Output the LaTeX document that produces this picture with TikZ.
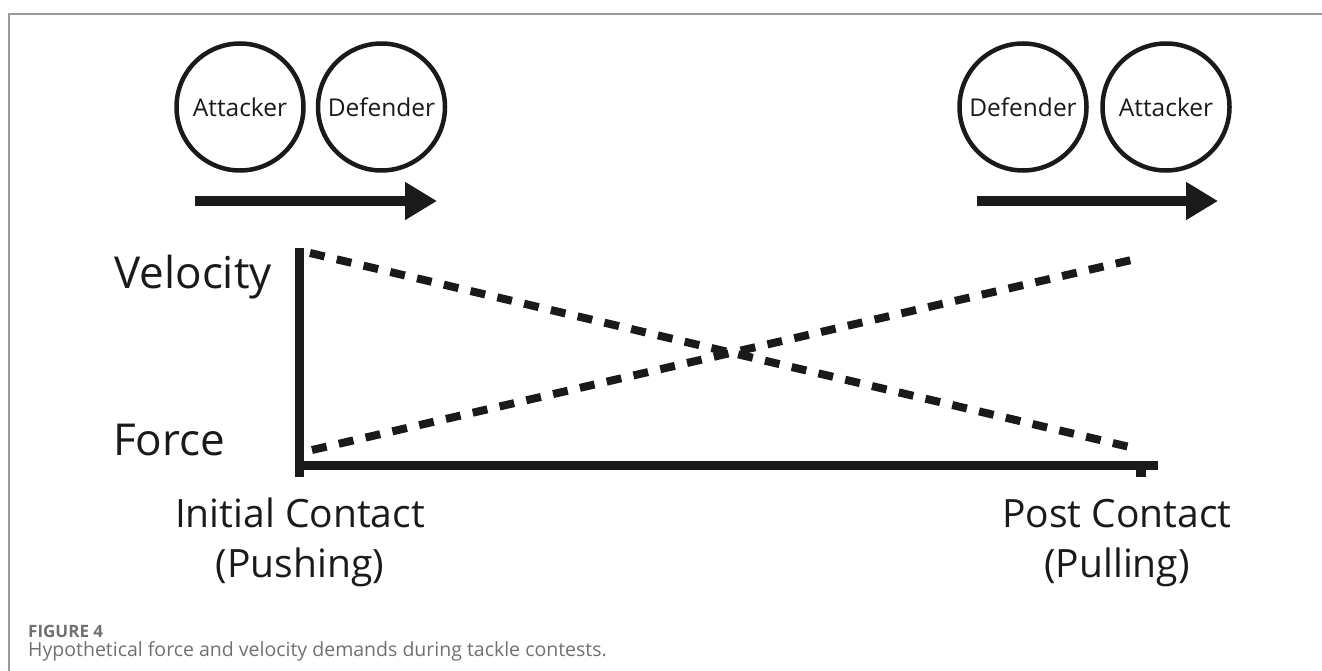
\documentclass[tikz,border=0pt]{standalone}
\usepackage{fontspec}
\setmainfont{Open Sans}
\usetikzlibrary{arrows.meta}

\definecolor{ink}{HTML}{1A1A1A}
\definecolor{framegray}{HTML}{9A9A9A}
\definecolor{capgray}{HTML}{707070}

\tikzset{
  player/.style={draw=ink, line width=4.5pt, circle, minimum size=127pt,
    inner sep=0pt, text=ink, font=\fontsize{24.5}{28}\selectfont},
  motion/.style={draw=ink, fill=ink, line width=10pt,
    -{Triangle[length=32pt, width=36pt]}},
  trend/.style={ink, line width=8pt, dash pattern=on 15pt off 12.5pt},
  axisline/.style={ink, line width=9pt},
  bigtext/.style={text=ink, align=center, inner sep=0pt,
    font=\fontsize{44}{48}\selectfont},
  phasetext/.style={text=ink, align=center, inner sep=0pt,
    font=\fontsize{39}{50}\selectfont},
}

\begin{document}
\begin{tikzpicture}[x=1pt, y=-1pt]
  \useasboundingbox (0,0) rectangle (1322,671);

  % Frame
  \draw[framegray, line width=1.5pt] (1322,14) -- (9,14) -- (9,671);

  % Players, before and after contact
  \node[player] (att1) at (240,107) {Attacker};
  \node[player] (def1) at (381.5,107) {Defender};
  \node[player] (def2) at (1023,107) {Defender};
  \node[player] (att2) at (1166,107) {Attacker};

  % Direction of travel
  \coordinate (push0) at (195,201);
  \coordinate (push1) at (437,201);
  \coordinate (pull0) at (977,201);
  \coordinate (pull1) at (1218,201);
  \draw[motion] (push0) -- (push1);
  \draw[motion] (pull0) -- (pull1);

  % Axes
  \coordinate (ytop) at (299.5,248);
  \coordinate (ybot) at (299.5,477);
  \coordinate (xleft) at (295,465);
  \coordinate (xright) at (1158,465);
  \coordinate (tick0) at (1141,465);
  \coordinate (tick1) at (1141,477);
  \draw[axisline] (ytop) -- (ybot);
  \draw[axisline] (xleft) -- (xright);
  \draw[axisline, line width=10pt] (tick0) -- (tick1);

  % Demands (velocity falls, force rises)
  \coordinate (vel0) at (310,253);
  \coordinate (vel1) at (1138,449);
  \coordinate (for0) at (312,450);
  \coordinate (for1) at (1140,258);
  \draw[trend] (vel0) -- (vel1);
  \draw[trend] (for0) -- (for1);

  % Labels (multi-line nodes sit on the baseline of their last line)
  \node[bigtext, anchor=base east] (vel) at (272,288) {Velocity};
  \node[bigtext, anchor=base west] (frc) at (113,455) {Force};
  \node[phasetext, anchor=base] (init) at (300,577) {Initial Contact\\(Pushing)};
  \node[phasetext, anchor=base] (post) at (1117,577) {Post Contact\\(Pulling)};

  % Caption
  \node[anchor=base west, inner sep=0pt, text=capgray,
    font=\fontsize{17}{20}\selectfont\bfseries] (fig) at (28,637) {FIGURE 4};
  \node[anchor=base west, inner sep=0pt, text=capgray,
    font=\fontsize{19.5}{22}\selectfont] (cap) at (28,656)
    {Hypothetical force and velocity demands during tackle contests.};
\end{tikzpicture}
\end{document}
